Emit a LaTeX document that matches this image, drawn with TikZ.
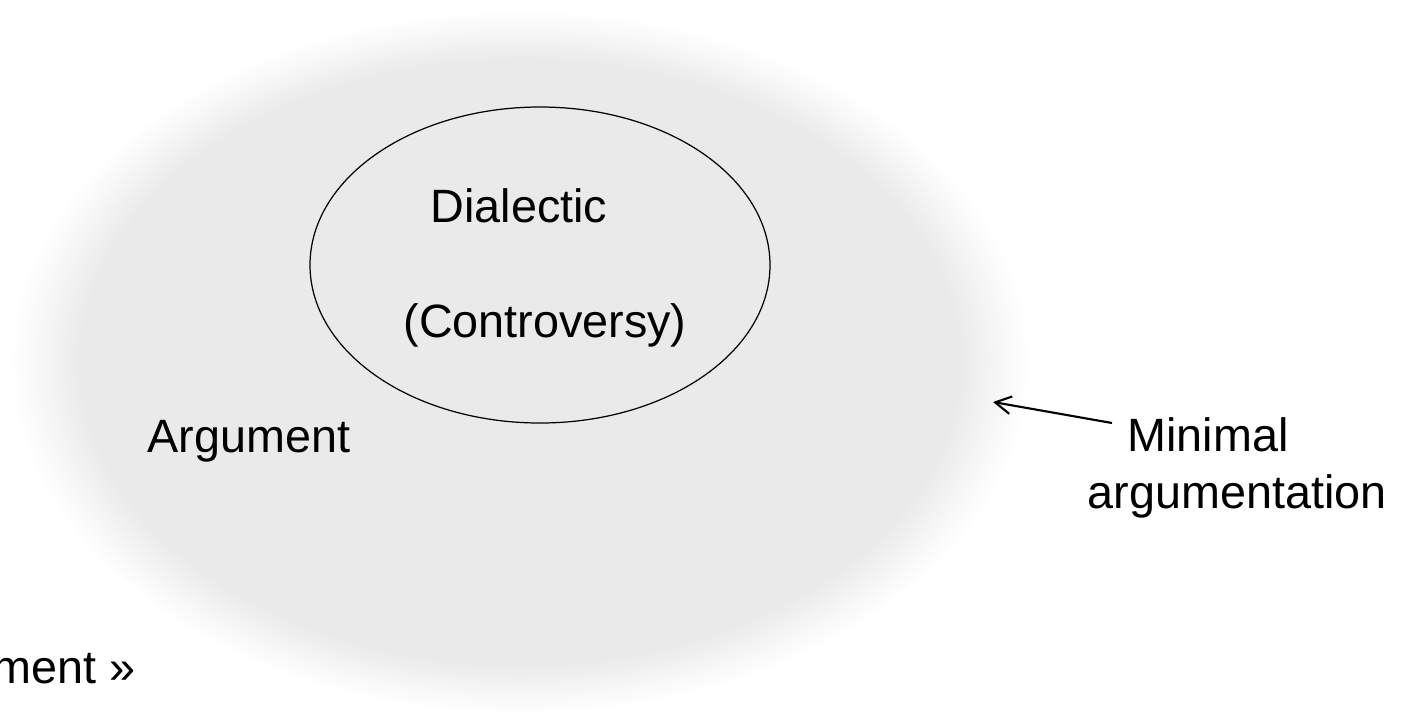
\documentclass[tikz,border=0pt]{standalone}
\usepackage{fontspec}
\setmainfont{Liberation Sans}
\usepackage{tikz}
\usetikzlibrary{arrows.meta,shapes,positioning}
\usepackage{xcolor}
\definecolor{fieldgray}{RGB}{234,234,234}
\pgfdeclareradialshading{softfield}{\pgfpoint{0bp}{0bp}}{color(0bp)=(fieldgray); color(21.5bp)=(fieldgray); color(23.5bp)=(fieldgray!40!white); color(25bp)=(white); color(50bp)=(white)}
\tikzstyle{pointer} = [line width=1.2pt,-{Straight Barb[length=9pt,width=10pt]},color=black]
\tikzstyle{txt} = [inner sep=0pt, font=\fontsize{26.6}{32.4}\selectfont, anchor=base]

\begin{document}
\begin{tikzpicture}
\clip (0,0) rectangle (28.04,-14.42);
% Argument field, soft edge
\shade[shading=softfield] (10.4,-7.24) ellipse [x radius=10.2cm, y radius=7.04cm];

% Dialectic inside
\draw[line width=0.7pt] (10.8,-5.3) ellipse [x radius=4.6cm, y radius=3.16cm];
\node[txt] (dialectic) at (10.38,-4.44) {Dialectic};
\node[txt] (controversy) at (10.9,-6.74) {(Controversy)};

% Argument
\node[txt] (argument) at (4.98,-9.04) {Argument};

% Minimal argumentation
\node[txt] (minimal) at (24.16,-9.02) {Minimal};
\node[txt] (argumentation) at (24.74,-10.16) {argumentation};
\coordinate (mintail) at (22.24,-8.46);
\coordinate (fieldedge) at (19.86,-8.04);
\draw[pointer] (mintail) -- (fieldedge);

% cut off quote
\node[txt, anchor=base east] (quote) at (2.72,-13.66) {ment »};
\end{tikzpicture}
\end{document}
